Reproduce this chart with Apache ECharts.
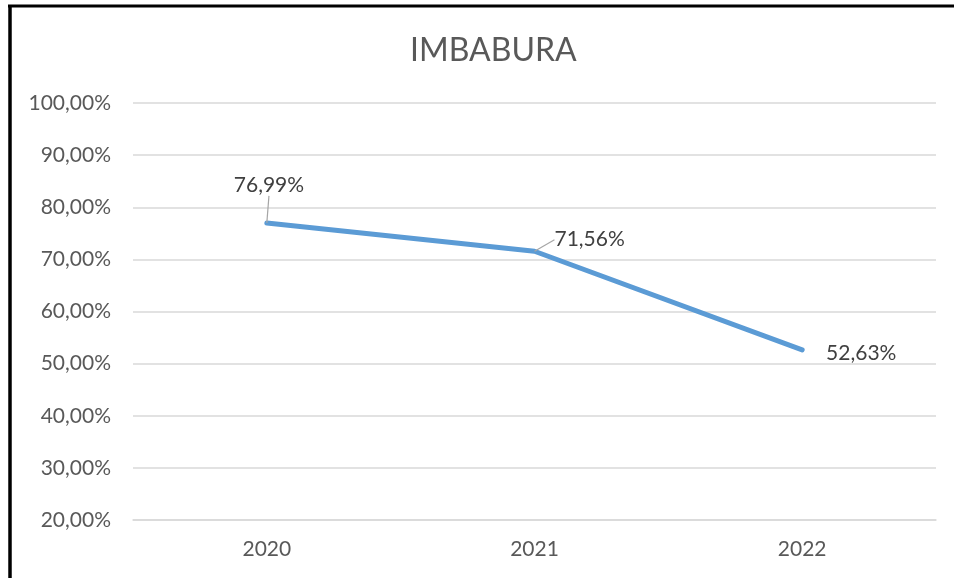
<!DOCTYPE html>
<html>
<head>
<meta charset="utf-8">
<script src="https://cdn.jsdelivr.net/npm/echarts@6/dist/echarts.min.js"></script>
<style>
html,body{margin:0;padding:0;background:#fff;}
#c{width:954px;height:578px;}
</style>
</head>
<body>
<div id="c"></div>
<script>
const titleText = 'IMBABURA';
const categories = ['2020', '2021', '2022'];
const values = [76.99, 71.56, 52.63];
const yTicks = { min: 20, max: 100, interval: 10 };

function pct(v) { return v.toFixed(2).replace('.', ',') + '%'; }

const FONT = 'Lato, "Open Sans", sans-serif';
const chart = echarts.init(document.getElementById('c'), null, { renderer: 'canvas' });

const labelShift = [
  { dx: -33, dy: -48 },
  { dx: 20, dy: -22 },
  { dx: 24, dy: -7 }
];

chart.setOption({
  animation: false,
  title: {
    text: titleText,
    left: 405,
    top: 30,
    textStyle: { fontFamily: FONT, fontSize: 32, fontWeight: 'normal', color: '#595959' }
  },
  grid: { left: 133, right: 18, top: 103, bottom: 58, containLabel: false },
  xAxis: {
    type: 'category',
    data: categories,
    boundaryGap: true,
    axisLine: { show: true, lineStyle: { color: '#d9d9d9', width: 1.5 } },
    axisTick: { show: false },
    axisLabel: { fontFamily: FONT, fontSize: 21, color: '#595959', margin: 19 }
  },
  yAxis: {
    type: 'value',
    min: yTicks.min,
    max: yTicks.max,
    interval: yTicks.interval,
    axisLine: { show: false },
    axisTick: { show: false },
    splitLine: { lineStyle: { color: '#d9d9d9', width: 1.5 } },
    axisLabel: { fontFamily: FONT, fontSize: 21, color: '#595959', margin: 22, formatter: pct }
  },
  series: [{
    type: 'line',
    data: values.map((v, i) => ({
      value: v,
      labelLine: { show: i < 2 }
    })),
    showSymbol: true,
    symbol: 'circle',
    symbolSize: 0.1,
    lineStyle: { color: '#5b9bd5', width: 5, cap: 'round', join: 'round' },
    itemStyle: { color: '#5b9bd5' },
    label: {
      show: true,
      position: 'right',
      fontFamily: FONT,
      fontSize: 21,
      color: '#404040',
      formatter: p => pct(p.value)
    },
    labelLine: { show: true, lineStyle: { color: '#a6a6a6', width: 1.2 } },
    labelLayout: function (params) {
      const s = labelShift[params.dataIndex];
      return { x: params.rect.x + s.dx, y: params.rect.y + s.dy, align: 'left', verticalAlign: 'top' };
    }
  }],
  graphic: [
    { type: 'line', shape: { x1: 10, y1: 5, x2: 10, y2: 578 }, style: { stroke: '#000', lineWidth: 3.5 } },
    { type: 'line', shape: { x1: 8, y1: 6, x2: 954, y2: 6 }, style: { stroke: '#000', lineWidth: 3 } }
  ]
});
</script>
</body>
</html>
